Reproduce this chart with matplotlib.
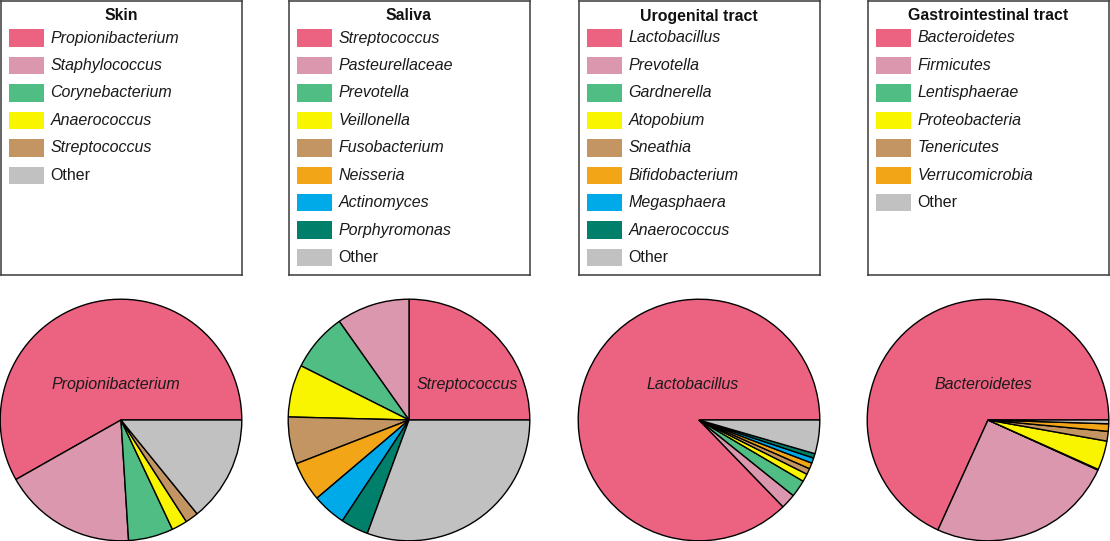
import matplotlib
matplotlib.use("Agg")
import matplotlib.pyplot as plt
from matplotlib.patches import Rectangle

plt.rcParams['font.family'] = ['Liberation Sans', 'DejaVu Sans']

# colours shared by all panels, in legend order
colors = ['#EC6382', '#DB97AE', '#50BD84', '#F9F400', '#C29562',
          '#F2A516', '#00AAE9', '#00806A']
other_color = '#C1C1C1'

titles = ['Skin', 'Saliva', 'Urogenital tract', 'Gastrointestinal tract']

skin_labels = ['Propionibacterium', 'Staphylococcus', 'Corynebacterium',
               'Anaerococcus', 'Streptococcus', 'Other']
skin_values = [58.2, 17.8, 6.0, 2.1, 1.75, 14.15]

saliva_labels = ['Streptococcus', 'Pasteurellaceae', 'Prevotella', 'Veillonella',
                 'Fusobacterium', 'Neisseria', 'Actinomyces', 'Porphyromonas', 'Other']
saliva_values = [25.0, 9.8, 7.8, 7.0, 6.3, 5.3, 4.5, 3.7, 30.6]

uro_labels = ['Lactobacillus', 'Prevotella', 'Gardnerella', 'Atopobium', 'Sneathia',
              'Bifidobacterium', 'Megasphaera', 'Anaerococcus', 'Other']
uro_values = [87.2, 2.0, 2.3, 1.05, 0.8, 0.8, 0.7, 0.6, 4.5]

gi_labels = ['Bacteroidetes', 'Firmicutes', 'Lentisphaerae', 'Proteobacteria',
             'Tenericutes', 'Verrucomicrobia', 'Other']
gi_values = [68.2, 25.0, 0.1, 3.9, 1.3, 1.0, 0.5]

all_labels = [skin_labels, saliva_labels, uro_labels, gi_labels]
all_values = [skin_values, saliva_values, uro_values, gi_values]

# pie label offsets (in units of radius)
label_pos = [(-0.04, 0.29), (0.48, 0.29), (-0.05, 0.29), (-0.04, 0.29)]

W, H = 1110, 541
fig = plt.figure(figsize=(W / 100, H / 100), dpi=100)

centers_x = [121, 409, 699, 988]
r = 121
box_w, box_h = 241, 274

for i in range(4):
    labels = all_labels[i]
    values = all_values[i]
    cols = [other_color if l == 'Other' else colors[k] for k, l in enumerate(labels)]

    # pie
    cx = centers_x[i]
    size = 2 * r + 2
    ax = fig.add_axes([(cx - size / 2) / W, (121 - size / 2) / H, size / W, size / H])
    ax.pie(values, colors=cols, startangle=0, counterclock=True,
           wedgeprops=dict(edgecolor='black', linewidth=1.0))
    ax.set_xlim(-1.01, 1.01)
    ax.set_ylim(-1.01, 1.01)
    for p in ax.patches:
        p.set_clip_on(False)
    ax.text(label_pos[i][0], label_pos[i][1], labels[0], ha='center', va='center',
            fontsize=11.5, style='italic', color='#1a1a1a')

    # legend box
    bx = cx - box_w / 2
    lax = fig.add_axes([bx / W, (H - 1 - box_h) / H, box_w / W, box_h / H])
    lax.set_xlim(0, box_w)
    lax.set_ylim(box_h, 0)
    lax.set_xticks([])
    lax.set_yticks([])
    for s in lax.spines.values():
        s.set_color('#3a3a3a')
        s.set_linewidth(1.1)
    lax.text(box_w / 2, 15, titles[i], ha='center', va='center',
             fontsize=11.4, fontweight='bold', color='#111111')
    for k, l in enumerate(labels):
        y = 37 + 27.45 * k
        lax.add_patch(Rectangle((8, y - 8.7), 35, 17.4, facecolor=cols[k],
                                edgecolor='none'))
        lax.text(50, y, l, ha='left', va='center', fontsize=11.5,
                 style='normal' if l == 'Other' else 'italic', color='#1a1a1a')

fig.savefig('out.png', dpi=100)
